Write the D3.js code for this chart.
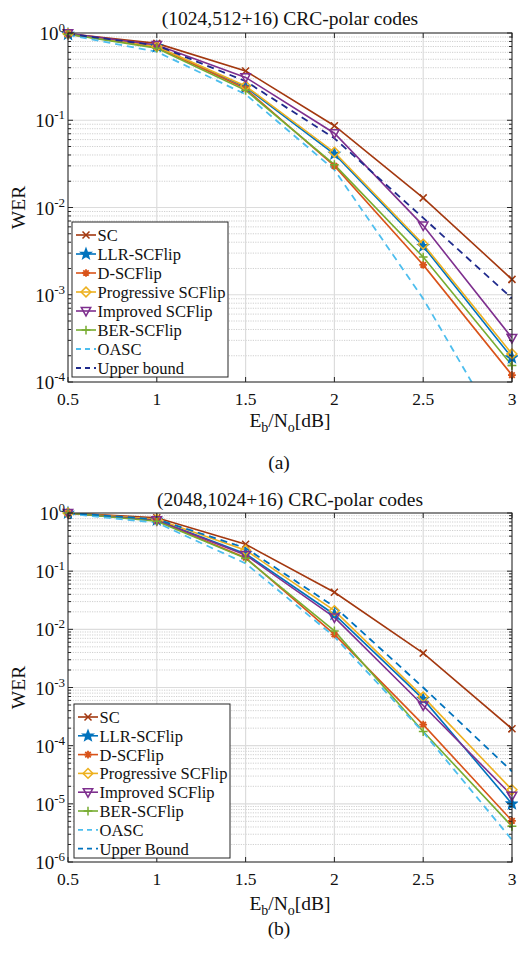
<!DOCTYPE html>
<html>
<head>
<meta charset="utf-8">
<script src="https://cdn.jsdelivr.net/npm/d3@7"></script>
<style>
  html, body { margin: 0; padding: 0; background: #fff; }
  svg { display: block; }
  text { font-family: "Liberation Serif", "DejaVu Serif", serif; fill: #111; }
</style>
</head>
<body>
<svg id="fig" width="518" height="953"></svg>
<script>
// ---------------- data ----------------
const ebno = [0.5, 1, 1.5, 2, 2.5, 3];
const xTicks = [0.5, 1, 1.5, 2, 2.5, 3];
const seriesNamesA = ["SC", "LLR-SCFlip", "D-SCFlip", "Progressive SCFlip", "Improved SCFlip", "BER-SCFlip", "OASC", "Upper bound"];
const seriesNamesB = ["SC", "LLR-SCFlip", "D-SCFlip", "Progressive SCFlip", "Improved SCFlip", "BER-SCFlip", "OASC", "Upper Bound"];

// (a) (1024,512+16)
const scA   = [0.98, 0.76, 0.367, 0.0866, 0.0129, 0.0015];
const llrA  = [0.97, 0.70, 0.240, 0.041, 0.0036, 0.00019];
const dA    = [0.97, 0.69, 0.230, 0.030, 0.0022, 0.00012];
const progA = [0.98, 0.70, 0.247, 0.043, 0.0038, 0.00021];
const impA  = [0.99, 0.73, 0.310, 0.071, 0.0062, 0.00032];
const berA  = [0.97, 0.67, 0.220, 0.031, 0.0027, 0.000155];
const oascA = [0.95, 0.61, 0.198, 0.027, 0.0009, 0.000016];
const ubA   = [0.98, 0.72, 0.280, 0.062, 0.0076, 0.00091];

// (b) (2048,1024+16)
const scB   = [1.0, 0.83, 0.290, 0.0434, 0.0039, 0.000195];
const llrB  = [1.0, 0.76, 0.200, 0.018, 0.00063, 0.0000100];
const dB    = [1.0, 0.74, 0.170, 0.0082, 0.00023, 0.0000051];
const progB = [1.0, 0.78, 0.230, 0.021, 0.00069, 0.0000174];
const impB  = [1.0, 0.75, 0.190, 0.016, 0.00049, 0.0000138];
const berB  = [1.0, 0.72, 0.166, 0.0094, 0.000175, 0.0000041];
const oascB = [0.97, 0.68, 0.136, 0.0075, 0.00017, 0.0000024];
const ubB   = [1.0, 0.78, 0.250, 0.0245, 0.0010, 0.000036];

const yExpA = [0, -1, -2, -3, -4];
const yExpB = [0, -1, -2, -3, -4, -5, -6];

// ---------------- styles ----------------
const styles = [
  {color: "#A3380F", marker: "x",    dash: null},
  {color: "#0072BD", marker: "star", dash: null},
  {color: "#D95319", marker: "ast",  dash: null},
  {color: "#EDB120", marker: "diamond", dash: null},
  {color: "#7E2F8E", marker: "tri",  dash: null},
  {color: "#77AC30", marker: "plus", dash: null},
  {color: "#4DBEEE", marker: null,   dash: "7,5"},
  {color: "#1F2A8C", marker: null,   dash: "7,5"}
];

const svg = d3.select("#fig");

function markerPath(type, s) {
  switch (type) {
    case "x": return `M${-s},${-s}L${s},${s}M${-s},${s}L${s},${-s}`;
    case "plus": return `M${-s*1.25},0L${s*1.25},0M0,${-s*1.25}L0,${s*1.25}`;
    case "ast": {
      const r = s*1.1, d = r*0.7071;
      return `M${-r},0L${r},0M0,${-r}L0,${r}M${-d},${-d}L${d},${d}M${-d},${d}L${d},${-d}`;
    }
    case "diamond": { const r = s*1.4; return `M0,${-r}L${r},0L0,${r}L${-r},0Z`; }
    case "tri": { const r = s*1.35; return `M${-r},${-r*0.75}L${r},${-r*0.75}L0,${r*1.05}Z`; }
    case "star": {
      const R = s*1.5, r = R*0.42; let p = "";
      for (let i = 0; i < 10; i++) {
        const a = -Math.PI/2 + i*Math.PI/5, rr = i % 2 ? r : R;
        p += (i ? "L" : "M") + (rr*Math.cos(a)).toFixed(2) + "," + (rr*Math.sin(a)).toFixed(2);
      }
      return p + "Z";
    }
  }
  return "";
}

function drawMarker(g, type, color, x, y) {
  if (!type) return;
  const s = 3.5;
  g.append("path").attr("d", markerPath(type, s))
    .attr("transform", `translate(${x},${y})`)
    .attr("stroke", color).attr("stroke-width", type === "ast" ? 1.8 : 1.5)
    .attr("fill", type === "star" ? color : "none");
}

function panel(cfg) {
  const g = svg.append("g");
  const x = d3.scaleLinear().domain([0.5, 3]).range([cfg.left, cfg.right]);
  const y = d3.scaleLog().domain([Math.pow(10, d3.min(cfg.yExp)), 1]).range([cfg.bottom, cfg.top]);
  const W = cfg.right - cfg.left, H = cfg.bottom - cfg.top;

  // minor grid
  const minors = [];
  cfg.yExp.forEach(e => { if (e < 0) for (let k = 2; k <= 9; k++) minors.push(k * Math.pow(10, e)); });
  g.append("g").selectAll("line").data(minors).join("line")
    .attr("x1", cfg.left).attr("x2", cfg.right)
    .attr("y1", d => y(d)).attr("y2", d => y(d))
    .attr("stroke", "#c4c4c4").attr("stroke-width", 0.8).attr("stroke-dasharray", "1.2,1.2");
  // major grid
  g.append("g").selectAll("line").data(cfg.yExp.map(e => Math.pow(10, e))).join("line")
    .attr("x1", cfg.left).attr("x2", cfg.right)
    .attr("y1", d => y(d)).attr("y2", d => y(d))
    .attr("stroke", "#dcdcdc").attr("stroke-width", 1.2);
  g.append("g").selectAll("line").data(xTicks).join("line")
    .attr("x1", d => x(d)).attr("x2", d => x(d))
    .attr("y1", cfg.top).attr("y2", cfg.bottom)
    .attr("stroke", "#dcdcdc").attr("stroke-width", 1.2);

  // clip
  const cid = "clip" + cfg.id;
  g.append("clipPath").attr("id", cid).append("rect")
    .attr("x", cfg.left).attr("y", cfg.top).attr("width", W).attr("height", H);

  const data = cfg.series;
  const line = d3.line().x((d, i) => x(ebno[i])).y(d => y(d));
  const lg = g.append("g").attr("clip-path", `url(#${cid})`);
  data.forEach((vals, si) => {
    const st = cfg.styles[si];
    lg.append("path").attr("d", line(vals)).attr("fill", "none")
      .attr("stroke", st.color).attr("stroke-width", st.dash ? 1.8 : 1.6)
      .attr("stroke-dasharray", st.dash);
  });
  data.forEach((vals, si) => {
    const st = cfg.styles[si];
    vals.forEach((v, i) => drawMarker(lg, st.marker, st.color, x(ebno[i]), y(v)));
  });
  // markers sitting on the left/right boundary are not clipped
  data.forEach((vals, si) => {
    const st = cfg.styles[si];
    vals.forEach((v, i) => {
      const px = x(ebno[i]);
      if ((px <= cfg.left + 0.5 || px >= cfg.right - 0.5) && y(v) <= cfg.bottom)
        drawMarker(g, st.marker, st.color, px, y(v));
    });
  });

  // axes box
  const ax = g.append("g").attr("stroke", "#262626").attr("stroke-width", 1).attr("fill", "none");
  ax.append("rect").attr("x", cfg.left).attr("y", cfg.top).attr("width", W).attr("height", H);
  xTicks.forEach(t => {
    ax.append("line").attr("x1", x(t)).attr("x2", x(t)).attr("y1", cfg.bottom).attr("y2", cfg.bottom - 5);
    ax.append("line").attr("x1", x(t)).attr("x2", x(t)).attr("y1", cfg.top).attr("y2", cfg.top + 5);
  });
  cfg.yExp.forEach(e => {
    const yy = y(Math.pow(10, e));
    ax.append("line").attr("x1", cfg.left).attr("x2", cfg.left + 5).attr("y1", yy).attr("y2", yy);
    ax.append("line").attr("x1", cfg.right).attr("x2", cfg.right - 5).attr("y1", yy).attr("y2", yy);
  });
  minors.forEach(m => {
    const yy = y(m);
    ax.append("line").attr("x1", cfg.left).attr("x2", cfg.left + 3).attr("y1", yy).attr("y2", yy);
    ax.append("line").attr("x1", cfg.right).attr("x2", cfg.right - 3).attr("y1", yy).attr("y2", yy);
  });

  // x tick labels
  g.append("g").selectAll("text").data(xTicks).join("text")
    .attr("x", d => x(d)).attr("y", cfg.xTickY)
    .attr("text-anchor", "middle").attr("font-size", 17.5)
    .text(d => String(d));
  // y tick labels
  cfg.yExp.forEach(e => {
    const t = g.append("text").attr("x", 65).attr("y", y(Math.pow(10, e)) + 7)
      .attr("text-anchor", "end").attr("font-size", 19);
    t.append("tspan").text("10");
    t.append("tspan").attr("dy", -8).attr("font-size", 13).text(String(e));
  });

  // title
  g.append("text").attr("x", (cfg.left + cfg.right) / 2).attr("y", cfg.titleY)
    .attr("text-anchor", "middle").attr("font-size", 19.5).text(cfg.title);
  // y label
  g.append("text").attr("transform", `translate(25,${(cfg.top + cfg.bottom) / 2}) rotate(-90)`)
    .attr("text-anchor", "middle").attr("font-size", 19.5).text("WER");
  // x label
  const xl = g.append("text").attr("x", (cfg.left + cfg.right) / 2).attr("y", cfg.xLabelY)
    .attr("text-anchor", "middle").attr("font-size", 19.5);
  xl.append("tspan").text("E");
  xl.append("tspan").attr("dy", 5).attr("font-size", 14).text("b");
  xl.append("tspan").attr("dy", -5).text("/N");
  xl.append("tspan").attr("dy", 5).attr("font-size", 14).text("o");
  xl.append("tspan").attr("dy", -5).text("[dB]");
  // caption
  g.append("text").attr("x", cfg.capX).attr("y", cfg.capY)
    .attr("text-anchor", "middle").attr("font-size", 19.5).text(cfg.caption);

  // legend
  const L = cfg.legend;
  const lgd = g.append("g");
  lgd.append("rect").attr("x", L.x).attr("y", L.y).attr("width", L.w).attr("height", L.h)
    .attr("fill", "#fff").attr("stroke", "#262626").attr("stroke-width", 1);
  cfg.names.forEach((name, i) => {
    const st = cfg.styles[i];
    const cy = L.y0 + i * L.step;
    lgd.append("line").attr("x1", L.x + 4).attr("x2", L.x + 24).attr("y1", cy).attr("y2", cy)
      .attr("stroke", st.color).attr("stroke-width", st.dash ? 1.8 : 1.6)
      .attr("stroke-dasharray", st.dash ? "5,4" : null);
    drawMarker(lgd, st.marker, st.color, L.x + 14, cy);
    lgd.append("text").attr("x", L.x + 25.5).attr("y", cy + 6)
      .attr("font-size", 16.5).text(name);
  });
}

panel({
  id: "A", left: 68, right: 512, top: 33, bottom: 382, yExp: yExpA,
  series: [scA, llrA, dA, progA, impA, berA, oascA, ubA],
  styles: styles, names: seriesNamesA,
  title: "(1024,512+16) CRC-polar codes", titleY: 25,
  xTickY: 405, xLabelY: 427, caption: "(a)", capX: 279, capY: 469,
  legend: {x: 72, y: 222, w: 156, h: 155, y0: 235, step: 19}
});

const stylesB = styles.map((s, i) => i === 7 ? Object.assign({}, s, {color: "#0072BD"}) : s);
panel({
  id: "B", left: 68, right: 512, top: 513, bottom: 862, yExp: yExpB,
  series: [scB, llrB, dB, progB, impB, berB, oascB, ubB],
  styles: stylesB, names: seriesNamesB,
  title: "(2048,1024+16) CRC-polar codes", titleY: 506,
  xTickY: 885, xLabelY: 910, caption: "(b)", capX: 279, capY: 935,
  legend: {x: 74, y: 704, w: 156, h: 154, y0: 717, step: 18.8}
});
</script>
</body>
</html>
